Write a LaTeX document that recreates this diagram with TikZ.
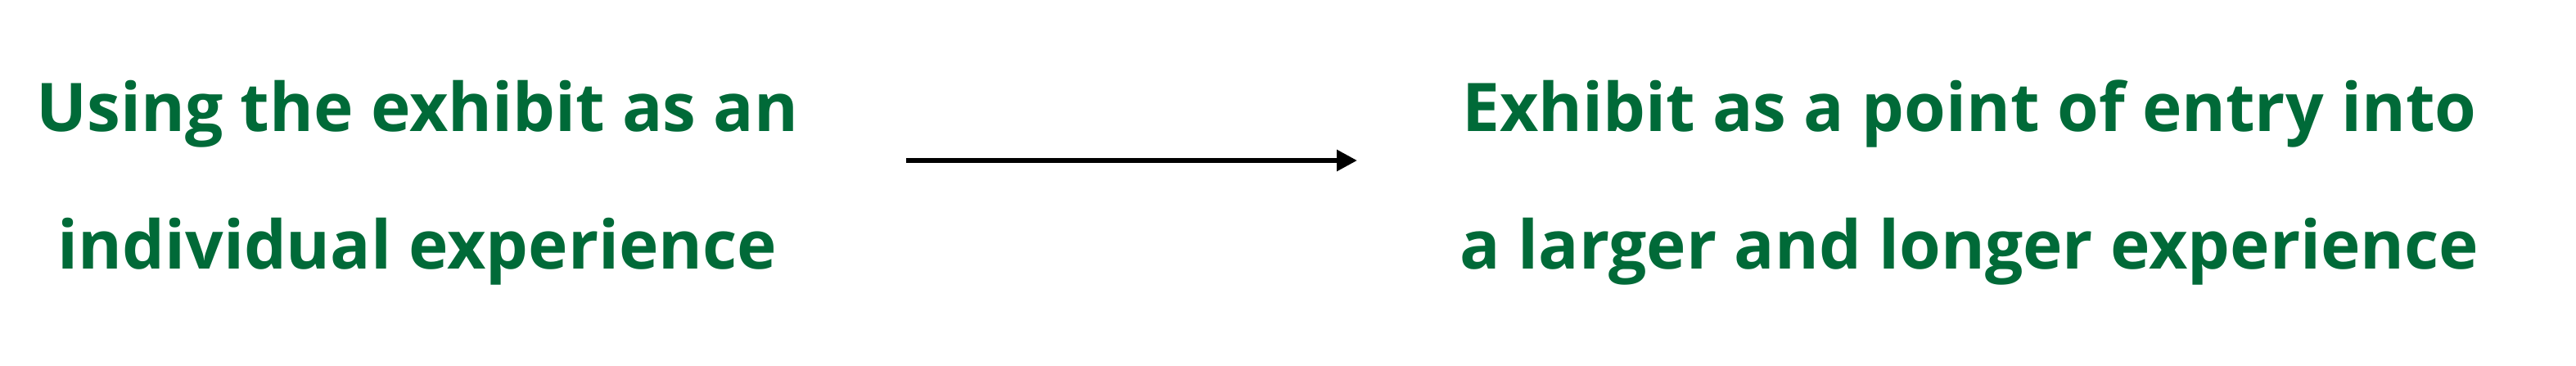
\documentclass[tikz,border=0pt]{standalone}
\usepackage{fontspec}
\setmainfont{Open Sans}
\usepackage{tikz}
\usetikzlibrary{arrows.meta}
\definecolor{exhibitgreen}{HTML}{006A38}

\begin{document}
\begin{tikzpicture}[>={Triangle[length=12.5pt,width=12.5pt]}, x=1pt, y=1pt,
	txt/.style={text=exhibitgreen, align=center, inner sep=0pt, anchor=base,
		font=\fontsize{41}{84}\selectfont\bfseries}]
		\useasboundingbox (0,0) rectangle (1573.5,223);
		\node[txt] (usingtxt) at (255,59) {Using the exhibit as an\\individual experience};
		\node[txt] (entrytxt) at (1203,59) {Exhibit as a point of entry into\\a larger and longer experience};
		\coordinate (arrowstart) at (553.5,125);
		\coordinate (arrowend) at (829,125);
		\draw[->, line width=3pt] (arrowstart)--(arrowend);
		\end{tikzpicture}
\end{document}
